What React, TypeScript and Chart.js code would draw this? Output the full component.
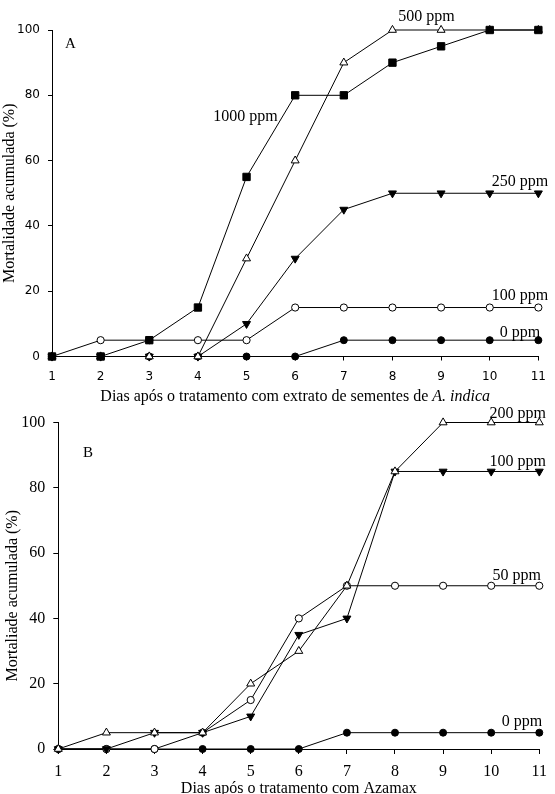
import React, { useEffect, useRef } from 'react';
import { Chart, registerables } from 'chart.js';

Chart.register(...registerables);

// Days after treatment (x axis)
const days = [1, 2, 3, 4, 5, 6, 7, 8, 9, 10, 11];
const yTicks = [0, 20, 40, 60, 80, 100];

// Panel A – extrato de sementes de A. indica (mortalidade acumulada, %)
const neem0 = [0, 0, 0, 0, 0, 0, 5, 5, 5, 5, 5];
const neem100 = [0, 5, 5, 5, 5, 15, 15, 15, 15, 15, 15];
const neem250 = [0, 0, 0, 0, 10, 30, 45, 50, 50, 50, 50];
const neem500 = [0, 0, 0, 0, 30, 60, 90, 100, 100, 100, 100];
const neem1000 = [0, 0, 5, 15, 55, 80, 80, 90, 95, 100, 100];

// Panel B – Azamax (mortalidade acumulada, %)
const aza0 = [0, 0, 0, 0, 0, 0, 5, 5, 5, 5, 5];
const aza50 = [0, 0, 0, 5, 15, 40, 50, 50, 50, 50, 50];
const aza100 = [0, 0, 5, 5, 10, 35, 40, 85, 85, 85, 85];
const aza200 = [0, 5, 5, 5, 20, 30, 50, 85, 100, 100, 100];

const SERIF = '"Liberation Serif", "Times New Roman", serif';
const SANS = '"DejaVu Sans", sans-serif';

type Marker = { style: string; radius: number; fill: string; rotation?: number };
const filledCircle: Marker = { style: 'circle', radius: 3.5, fill: '#000' };
const openCircle: Marker = { style: 'circle', radius: 3.6, fill: '#fff' };
const filledDown: Marker = { style: 'triangle', radius: 4.6, fill: '#000', rotation: 180 };
const openUp: Marker = { style: 'triangle', radius: 4.6, fill: '#fff' };
const filledSquare: Marker = { style: 'rect', radius: 5.2, fill: '#000' };

function series(label: string, values: number[], m: Marker) {
  return {
    label,
    data: days.map((d, i) => ({ x: d, y: values[i] })),
    borderColor: '#000',
    borderWidth: 1,
    pointStyle: m.style,
    pointRadius: m.radius,
    pointRotation: m.rotation || 0,
    pointBackgroundColor: m.fill,
    pointBorderColor: '#000',
    pointBorderWidth: 1,
    tension: 0,
    clip: false,
  };
}

type Note = { text: string; x: number; y: number };
type Run = { text: string; italic?: boolean };

type PanelText = {
  notes: Note[];
  letter: Note;
  xTitle: Run[];
  xTitleGap: number;
  yTitle: string;
  yTitleX: number;
  yTitleShift: number;
};

function panelTextPlugin(p: PanelText) {
  return {
    id: 'panelText',
    afterDraw(chart: any) {
      const { ctx, chartArea: a } = chart;
      const xs = chart.scales.x;
      const ys = chart.scales.y;
      ctx.save();
      ctx.fillStyle = '#000';
      ctx.textBaseline = 'alphabetic';

      // series labels placed in data space
      ctx.textAlign = 'center';
      ctx.font = `16px ${SERIF}`;
      for (const n of p.notes) {
        ctx.fillText(n.text, xs.getPixelForValue(n.x), ys.getPixelForValue(n.y));
      }

      // panel letter
      ctx.font = `15px ${SERIF}`;
      ctx.fillText(p.letter.text, xs.getPixelForValue(p.letter.x), ys.getPixelForValue(p.letter.y));

      // x-axis title (mixed roman / italic runs)
      const fonts = p.xTitle.map((r) => `${r.italic ? 'italic ' : ''}16px ${SERIF}`);
      const widths = p.xTitle.map((r, i) => {
        ctx.font = fonts[i];
        return ctx.measureText(r.text).width;
      });
      const total = widths.reduce((s, w) => s + w, 0);
      let cx = (a.left + a.right) / 2 - total / 2;
      ctx.textAlign = 'left';
      p.xTitle.forEach((r, i) => {
        ctx.font = fonts[i];
        ctx.fillText(r.text, cx, a.bottom + p.xTitleGap);
        cx += widths[i];
      });

      // y-axis title
      ctx.translate(p.yTitleX, (a.top + a.bottom) / 2 + p.yTitleShift);
      ctx.rotate(-Math.PI / 2);
      ctx.textAlign = 'center';
      ctx.textBaseline = 'middle';
      ctx.font = `16px ${SERIF}`;
      ctx.fillText(p.yTitle, 0, 0);
      ctx.restore();
    },
  };
}

type Frame = {
  padTop: number;
  padRight: number;
  yWidth: number;
  xHeight: number;
  tickFont: { family: string; size: number };
  xTickPad: number;
  yTickPad: number;
  xTickLen: number;
  yTickLen: number;
};

function buildConfig(datasets: any[], frame: Frame, text: PanelText) {
  return {
    type: 'line',
    data: { datasets },
    plugins: [panelTextPlugin(text)],
    options: {
      responsive: false,
      animation: false,
      events: [],
      layout: { padding: { top: frame.padTop, right: frame.padRight, left: 0, bottom: 0 } },
      plugins: { legend: { display: false }, tooltip: { enabled: false }, title: { display: false } },
      scales: {
        x: {
          type: 'linear',
          min: days[0],
          max: days[days.length - 1],
          afterFit: (s: any) => {
            s.height = frame.xHeight;
          },
          ticks: {
            stepSize: 1,
            autoSkip: false,
            maxRotation: 0,
            color: '#000',
            padding: frame.xTickPad,
            font: frame.tickFont,
          },
          grid: {
            drawOnChartArea: false,
            drawTicks: true,
            tickLength: frame.xTickLen,
            color: '#000',
            lineWidth: 1,
          },
          border: { display: true, color: '#000', width: 1 },
        },
        y: {
          type: 'linear',
          min: yTicks[0],
          max: yTicks[yTicks.length - 1],
          afterFit: (s: any) => {
            s.width = frame.yWidth;
          },
          ticks: {
            stepSize: yTicks[1] - yTicks[0],
            color: '#000',
            padding: frame.yTickPad,
            font: frame.tickFont,
          },
          grid: {
            drawOnChartArea: false,
            drawTicks: true,
            tickLength: frame.yTickLen,
            color: '#000',
            lineWidth: 1,
          },
          border: { display: true, color: '#000', width: 1 },
        },
      },
    },
  };
}

const W = 555;
const TOP_H = 405;
const BOTTOM_TOP = 400;
const BOTTOM_H = 394;

export default function App() {
  const topRef = useRef<HTMLCanvasElement | null>(null);
  const bottomRef = useRef<HTMLCanvasElement | null>(null);

  useEffect(() => {
    const topChart = new Chart(
      topRef.current as HTMLCanvasElement,
      buildConfig(
        [
          series('1000 ppm', neem1000, filledSquare),
          series('500 ppm', neem500, openUp),
          series('250 ppm', neem250, filledDown),
          series('100 ppm', neem100, openCircle),
          series('0 ppm', neem0, filledCircle),
        ],
        {
          padTop: 30,
          padRight: 15.5,
          yWidth: 52,
          xHeight: 48.5,
          tickFont: { family: SANS, size: 12 },
          xTickPad: 9,
          yTickPad: 8,
          xTickLen: 4,
          yTickLen: 4,
        },
        {
          notes: [
            { text: '500 ppm', x: 8.7, y: 102.8 },
            { text: '1000 ppm', x: 4.98, y: 72.1 },
            { text: '250 ppm', x: 10.62, y: 52.2 },
            { text: '100 ppm', x: 10.62, y: 17.3 },
            { text: '0 ppm', x: 10.62, y: 6.1 },
          ],
          letter: { text: 'A', x: 1.38, y: 94.4 },
          xTitle: [
            { text: 'Dias após o tratamento com extrato de sementes de ' },
            { text: 'A. indica', italic: true },
          ],
          xTitleGap: 44.5,
          yTitle: 'Mortalidade acumulada (%)',
          yTitleX: 10,
          yTitleShift: 0,
        }
      ) as any
    );

    const bottomChart = new Chart(
      bottomRef.current as HTMLCanvasElement,
      buildConfig(
        [
          series('200 ppm', aza200, openUp),
          series('100 ppm', aza100, filledDown),
          series('50 ppm', aza50, openCircle),
          series('0 ppm', aza0, filledCircle),
        ],
        {
          padTop: 22.5,
          padRight: 12.5,
          yWidth: 58.3,
          xHeight: 45,
          tickFont: { family: SERIF, size: 16 },
          xTickPad: 8,
          yTickPad: 8,
          xTickLen: 5,
          yTickLen: 5,
        },
        {
          notes: [
            { text: '200 ppm', x: 10.55, y: 101.4 },
            { text: '100 ppm', x: 10.55, y: 86.7 },
            { text: '50 ppm', x: 10.53, y: 51.8 },
            { text: '0 ppm', x: 10.64, y: 7.0 },
          ],
          letter: { text: 'B', x: 1.62, y: 89.5 },
          xTitle: [{ text: 'Dias após o tratamento com Azamax' }],
          xTitleGap: 44,
          yTitle: 'Mortaliade acumulada (%)',
          yTitleX: 12.5,
          yTitleShift: 10,
        }
      ) as any
    );

    return () => {
      topChart.destroy();
      bottomChart.destroy();
    };
  }, []);

  return (
    <div style={{ position: 'absolute', left: 0, top: 0, width: W, height: 794, background: '#fff' }}>
      <canvas
        ref={topRef}
        width={W}
        height={TOP_H}
        style={{ position: 'absolute', left: 0, top: 0, width: W, height: TOP_H, display: 'block' }}
      />
      <canvas
        ref={bottomRef}
        width={W}
        height={BOTTOM_H}
        style={{ position: 'absolute', left: 0, top: BOTTOM_TOP, width: W, height: BOTTOM_H, display: 'block' }}
      />
    </div>
  );
}
